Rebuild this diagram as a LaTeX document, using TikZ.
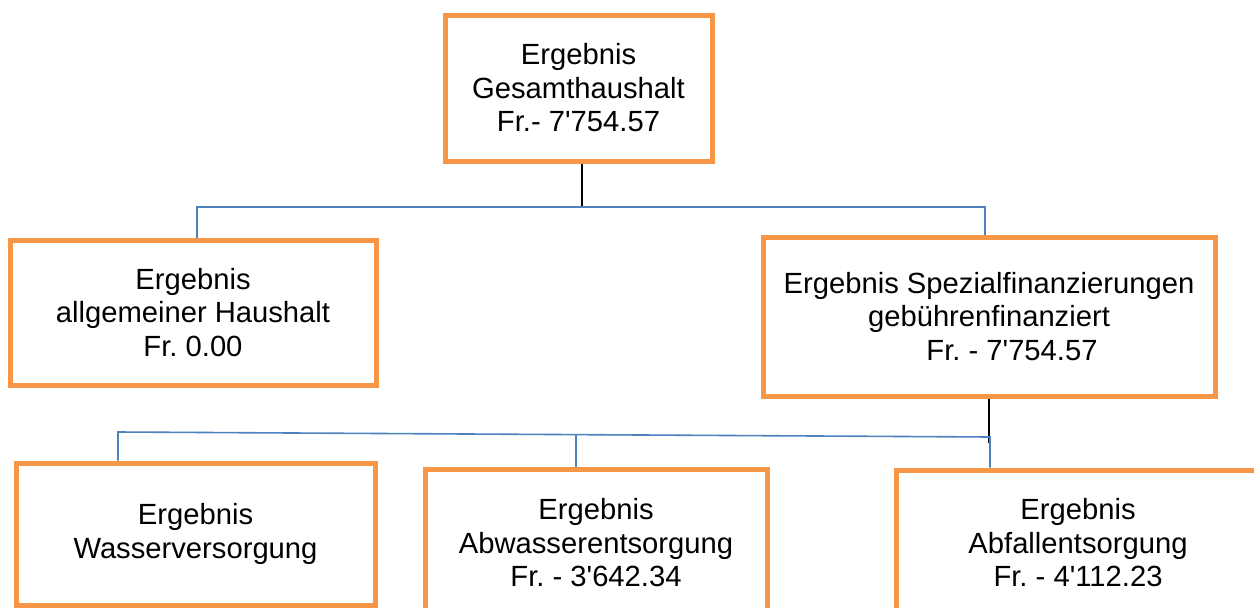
\documentclass[tikz,border=0pt]{standalone}
\usepackage{fontspec}
\setmainfont{Liberation Sans}
\definecolor{boxorange}{HTML}{F79646}
\definecolor{linkblue}{HTML}{4F81BD}
\newcommand{\ap}{\textquotesingle}
\begin{document}
\frenchspacing
\begin{tikzpicture}[x=1pt,y=-1pt,
  box/.style={draw=boxorange, line width=5pt, fill=white, align=center,
    inner sep=0pt, font=\fontsize{29.2}{33.5}\selectfont\frenchspacing},
  tree/.style={draw=linkblue, line width=1.6pt},
  stem/.style={draw=black, line width=1.8pt}]
\path[use as bounding box, clip] (0,0) rectangle (1254,608);
\fill[white] (0,0) rectangle (1254,608);

\node[box, minimum width=267pt, minimum height=146pt] (top) at (578.5,88)
  {Ergebnis\\Gesamthaushalt\\Fr.- 7\ap754.57};
\node[box, minimum width=366pt, minimum height=145pt] (left) at (193,312.5)
  {Ergebnis\\allgemeiner Haushalt\\Fr. 0.00};
\node[box, minimum width=452pt, minimum height=159pt] (right) at (989,316.5)
  {Ergebnis Spezialfinanzierungen\\geb\"uhrenfinanziert\\\hspace*{46pt}Fr. - 7\ap754.57};
\node[box, minimum width=359pt, minimum height=142pt] (wasser) at (195.5,534)
  {Ergebnis\\Wasserversorgung};
\node[box, minimum width=342pt, minimum height=148pt] (abw) at (596,543)
  {Ergebnis\\Abwasserentsorgung\\Fr. - 3\ap642.34};
\node[box, minimum width=364pt, minimum height=146pt] (abf) at (1078,543)
  {Ergebnis\\Abfallentsorgung\\Fr. - 4\ap112.23};

% upper level
\coordinate (j0) at (582,207);
\coordinate (ja) at (197,207);
\coordinate (jb) at (985,207);
\draw[stem] (top.south -| j0) -- (j0);
\draw[tree] (left.north -| ja) -- (ja) -- (jb) -- (right.north -| jb);

% lower level
\coordinate (j1) at (989,443);
\coordinate (bl) at (118,432);
\coordinate (bm) at (576,434.6);
\coordinate (br) at (990,437);
\draw[stem] (right.south) -- (j1);
\draw[tree] (wasser.north -| bl) -- (bl) -- (br) -- (abf.north -| br);
\draw[tree] (bm) -- (abw.north -| bm);
\end{tikzpicture}
\end{document}
